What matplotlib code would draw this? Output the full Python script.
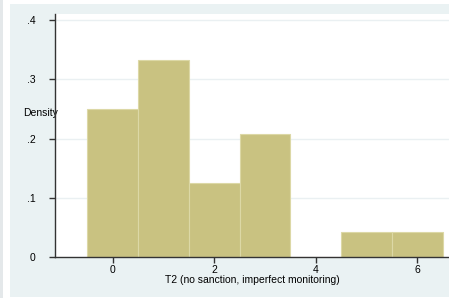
import matplotlib
matplotlib.use("Agg")
import matplotlib.pyplot as plt
from matplotlib.patches import Rectangle

# histogram of T2, 24 obs, bin width 1
bins = [0, 1, 2, 3, 4, 5, 6]
density = [6/24, 8/24, 3/24, 5/24, 0, 1/24, 1/24]
yticks = [0, .1, .2, .3, .4]
ylabels = ['0', '.1', '.2', '.3', '.4']
xticks = [0, 2, 4, 6]

plt.rcParams['font.family'] = ['Liberation Sans', 'DejaVu Sans']

W, H = 449, 298
fig = plt.figure(figsize=(W/100, H/100), dpi=100)
fig.patch.set_facecolor('white')
fig.patches.append(Rectangle((0, 0), 3/W, 1, transform=fig.transFigure,
                             facecolor='#e4e8ea', edgecolor='none', zorder=-5))
fig.patches.append(Rectangle((10/W, 1/H), 1, 1 - 5/H, transform=fig.transFigure,
                             facecolor='#eaf2f3', edgecolor='none', zorder=-5))

x0, x1 = 55, 449
ytop, ybot = 14, 257
ax = fig.add_axes([x0/W, (H-ybot)/H, (x1-x0)/W, (ybot-ytop)/H])
ax.set_zorder(1)
ax.set_facecolor('white')

ax.bar(bins, density, width=1, color='#c9c281', edgecolor='#dcd8a6', linewidth=0.8, zorder=2)

unit = 50.75
ax.set_xlim(-(112.7-x0)/unit, (x1-112.7)/unit)
ax.set_ylim(0, (ybot-ytop)/592)
ax.set_yticks(yticks, ylabels)
ax.set_xticks(xticks)
for y in yticks[1:]:
    ax.axhline(y, color='#eaf0f2', lw=1, zorder=1)

for s in ['top', 'right']:
    ax.spines[s].set_visible(False)
ax.spines['left'].set_color('#333333')
ax.spines['bottom'].set_color('#333333')
ax.spines['left'].set_linewidth(1)
ax.spines['bottom'].set_linewidth(1)
ax.tick_params(axis='both', labelsize=7.5, length=4, width=1, color='#333333', pad=2)
ax.tick_params(axis='y', pad=10)

ax.set_xlabel('T2 (no sanction, imperfect monitoring)', fontsize=7.5, labelpad=0)
ax.set_ylabel('Density', fontsize=7.5, rotation=0, ha='right', va='center')
ax.yaxis.set_label_coords(3/394, (257-113)/243)

fig.savefig('out.png', dpi=100)
